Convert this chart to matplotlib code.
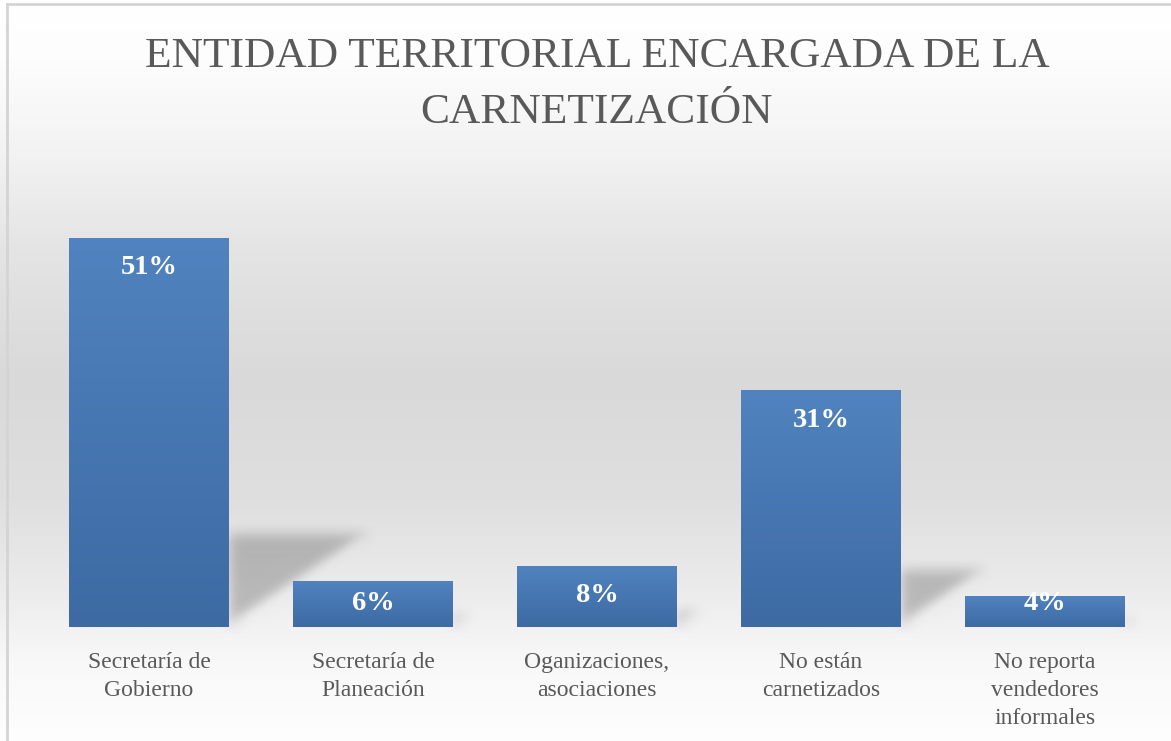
import numpy as np
import matplotlib
matplotlib.use("Agg")
import matplotlib.pyplot as plt
from matplotlib.lines import Line2D
from matplotlib.patches import Polygon

# --- data -------------------------------------------------------------
categories = [
    "Secretaría de\nGobierno",
    "Secretaría de\nPlaneación",
    "Oganizaciones,\nasociaciones",
    "No están\ncarnetizados",
    "No reporta\nvendedores\ninformales",
]
percentages = [51, 6, 8, 31, 4]
title = "ENTIDAD TERRITORIAL ENCARGADA DE LA\nCARNETIZACIÓN"

SERIF = ["Liberation Serif", "DejaVu Serif"]
TEXT_GRAY = "#595959"

W, H, DPI = 1171, 741, 100
fig = plt.figure(figsize=(W / DPI, H / DPI), dpi=DPI)


# --- soft blur used for the cast shadows -------------------------------
class GaussianBlur:
    def __init__(self, sigma_px):
        self.sigma = sigma_px

    def __call__(self, im, dpi):
        s = self.sigma * dpi / 72.0
        pad = int(3 * s) + 1
        src = np.pad(im, [(pad, pad), (pad, pad), (0, 0)], "constant")
        xs = np.arange(-pad, pad + 1)
        k = np.exp(-0.5 * (xs / s) ** 2)
        k /= k.sum()
        out = np.zeros_like(src)
        for off, w in zip(xs, k):
            out += w * np.roll(src, off, axis=0)
        src = out
        out = np.zeros_like(src)
        for off, w in zip(xs, k):
            out += w * np.roll(src, off, axis=1)
        return out, -pad, -pad


# --- background: vertical grey gradient --------------------------------
bg = fig.add_axes([0, 0, 1, 1], zorder=-10)
rows = np.arange(H)
stops_y = [0, 60, 150, 250, 380, 500, 600, 660, 741]
stops_v = [255, 253, 243, 228, 217, 223, 237, 248, 254]
grey = np.interp(rows, stops_y, stops_v) / 255.0
grad = np.repeat(grey[:, None], 4, axis=1)
bg.imshow(np.dstack([grad, grad, grad]), aspect="auto", extent=(0, 1, 0, 1),
          origin="upper", interpolation="bilinear")
bg.set_xlim(0, 1)
bg.set_ylim(0, 1)
bg.axis("off")

# frame lines along the left and top edges
fig.add_artist(Line2D([7 / W, 7 / W], [0, 1 - 4 / H], transform=fig.transFigure,
                      color="#d4d4d4", lw=2))
fig.add_artist(Line2D([7 / W, 1], [1 - 4 / H, 1 - 4 / H], transform=fig.transFigure,
                      color="#d4d4d4", lw=2))

# --- plot area ----------------------------------------------------------
ax = fig.add_axes([37 / W, 114 / H, 1120 / W, 458 / H])
ax.patch.set_alpha(0)
for sp in ax.spines.values():
    sp.set_visible(False)

x = np.arange(len(categories))
bar_w = 0.714
bars = ax.bar(x, percentages, width=bar_w, color="#4a7ab5", zorder=3)

ax.set_xlim(-0.5, len(categories) - 0.5)
ax.set_ylim(0, 60)

# pixel scale factors for sizing shadows relative to each bar
px_per_y = (458 / 60.0)
px_per_x = 1120 / len(categories)

top_rgb = np.array([80, 131, 191]) / 255.0
bot_rgb = np.array([61, 106, 163]) / 255.0
tcol = np.linspace(0, 1, 128)[:, None]
bar_grad = (top_rgb[None, :] * (1 - tcol) + bot_rgb[None, :] * tcol)[:, None, :]

for rect, v in zip(bars, percentages):
    x0 = rect.get_x()
    x1 = x0 + rect.get_width()
    # perspective shadow thrown to the right of each bar
    sh_h = 0.24 * v
    sh_dx = 0.36 * v * px_per_y / px_per_x
    shadow = Polygon([(x1, 0), (x1, sh_h), (x1 + sh_dx, sh_h)], closed=True,
                     facecolor="black", alpha=0.22, edgecolor="none", zorder=2)
    shadow.set_agg_filter(GaussianBlur(4.5))
    ax.add_patch(shadow)
    # vertical gradient fill
    im = ax.imshow(bar_grad, extent=(x0, x1, 0, v), aspect="auto",
                   origin="upper", interpolation="bilinear", zorder=4)
    im.set_clip_path(rect)

ax.set_xlim(-0.5, len(categories) - 0.5)
ax.set_ylim(0, 60)

# value labels inside the bar ends
for xi, v in zip(x, percentages):
    y = max(v - 30 / px_per_y, 24 / px_per_y)
    ax.text(xi, y, f"{v}%", ha="center", va="center", color="white",
            fontweight="bold", family=SERIF, fontsize=20.5, zorder=6)

ax.set_yticks([])
ax.set_xticks(x)
ax.set_xticklabels(categories, family=SERIF, fontsize=17, color=TEXT_GRAY,
                   linespacing=1.45, va="top")
ax.tick_params(axis="x", length=0, pad=18)

fig.text(597 / W, 1 - 85 / H, title, ha="center", va="center", family=SERIF,
         fontsize=31.3, color=TEXT_GRAY, linespacing=1.6)

fig.savefig("out.png", dpi=DPI)
